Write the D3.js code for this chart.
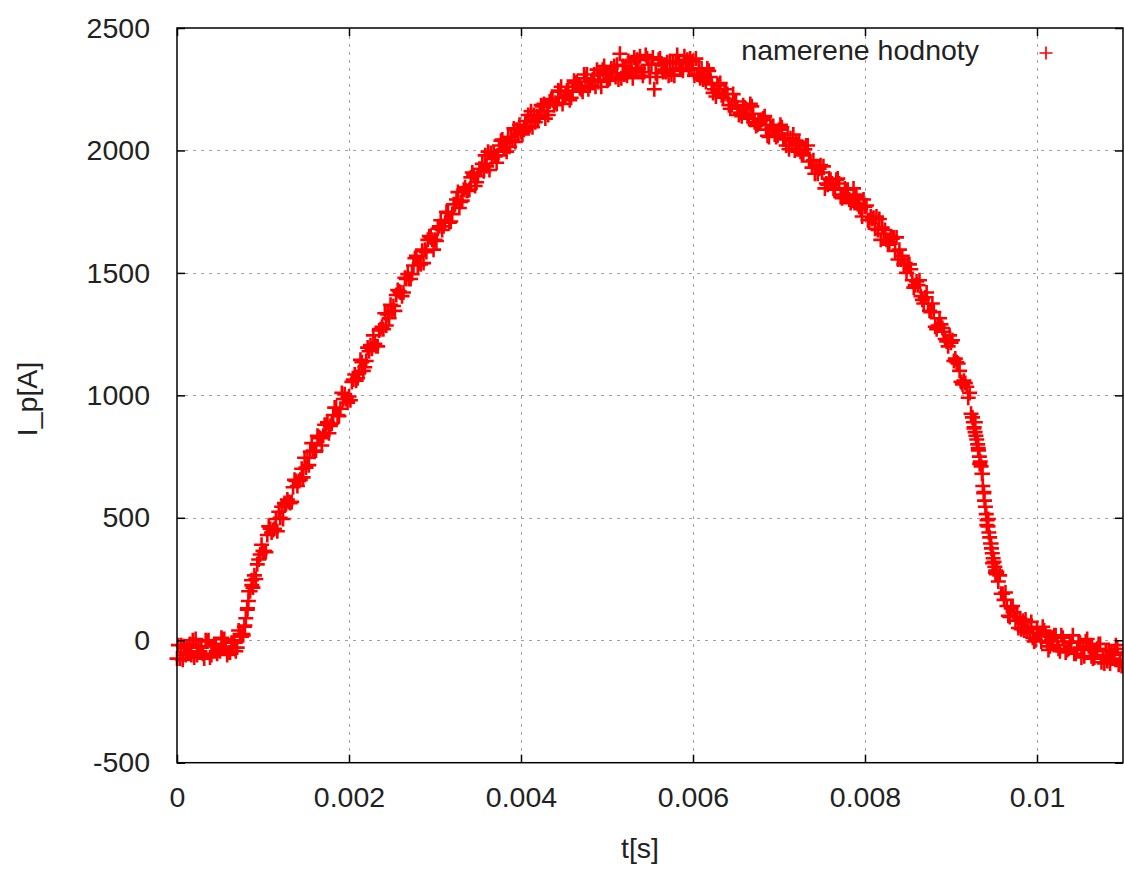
<!DOCTYPE html>
<html>
<head>
<meta charset="utf-8">
<script src="https://cdn.jsdelivr.net/npm/d3@7.9.0/dist/d3.min.js"></script>
<style>
  body { margin: 0; background: #fff; }
  svg { display: block; font-family: "Liberation Sans", Arial, sans-serif; }
</style>
</head>
<body>
<div id="chart"></div>
<script>
// measured current, read off the plot: three interleaved runs of samples,
// run A at t = k*step, run B at k*step + step/3, run C at k*step + 2*step/3
const sampleStep = 0.00005;
const currentA = [
  -75, -20, -60, -15, -70, -25, -55, -5, -60, -20, -45, 5, -50, -10, -30,
  15, 90, 200, 265, 330, 365, 430, 440, 495, 500, 560, 565, 625, 630, 700,
  705, 770, 770, 830, 835, 890, 885, 950, 945, 1005, 995, 1065, 1070, 1135, 1140,
  1205, 1210, 1265, 1270, 1330, 1345, 1410, 1420, 1480, 1475, 1530, 1530, 1590, 1585, 1645,
  1635, 1690, 1690, 1745, 1740, 1800, 1790, 1850, 1840, 1900, 1895, 1945, 1935, 1990, 1975,
  2020, 2005, 2055, 2040, 2085, 2075, 2120, 2100, 2145, 2130, 2180, 2160, 2210, 2195, 2240,
  2215, 2260, 2240, 2280, 2250, 2295, 2265, 2310, 2280, 2330, 2285, 2335, 2300, 2395, 2310,
  2365, 2295, 2370, 2320, 2390, 2300, 2250, 2370, 2320, 2360, 2310, 2365, 2335, 2385, 2330,
  2365, 2310, 2335, 2280, 2300, 2250, 2265, 2215, 2230, 2185, 2200, 2155, 2175, 2130, 2150,
  2105, 2125, 2085, 2105, 2065, 2085, 2045, 2065, 2020, 2040, 1995, 2005, 1955, 1960, 1905,
  1910, 1865, 1880, 1840, 1865, 1820, 1840, 1795, 1810, 1760, 1770, 1715, 1725, 1675, 1685,
  1635, 1650, 1590, 1595, 1535, 1535, 1470, 1465, 1405, 1400, 1345, 1340, 1285, 1275, 1220,
  1215, 1150, 1100, 1060, 990, 910, 820, 710, 545, 420, 320, 240, 190, 140, 130,
  80, 90, 40, 55, 10, 45, -5, 30, -25, 20, -35, 10, -40, -5, -55,
  -10, -65, -25, -75, -35, -90, -45, -95, -50, -100, -60
];
const currentB = [
  -20, -80, -30, -60, 5, -45, -75, 0, -25, -55, 10, -30, -50, 0, 40,
  25, 125, 245, 250, 350, 365, 465, 450, 445, 545, 555, 560, 655, 650, 665,
  745, 805, 775, 825, 880, 845, 920, 920, 1010, 985, 980, 1085, 1095, 1100, 1195,
  1190, 1200, 1270, 1335, 1315, 1365, 1430, 1405, 1475, 1475, 1560, 1540, 1540, 1635, 1635,
  1630, 1715, 1705, 1705, 1780, 1830, 1795, 1835, 1890, 1855, 1925, 1915, 1995, 1965, 1950,
  2040, 2030, 2015, 2090, 2070, 2065, 2120, 2160, 2115, 2145, 2190, 2145, 2205, 2190, 2260,
  2225, 2205, 2285, 2265, 2240, 2310, 2280, 2260, 2310, 2345, 2290, 2315, 2350, 2295, 2345,
  2320, 2380, 2335, 2305, 2375, 2350, 2315, 2375, 2330, 2305, 2355, 2390, 2335, 2355, 2375,
  2305, 2335, 2290, 2335, 2270, 2220, 2275, 2230, 2185, 2230, 2175, 2140, 2170, 2190, 2115,
  2120, 2130, 2060, 2095, 2055, 2105, 2045, 2005, 2065, 2025, 1980, 2020, 1955, 1905, 1925,
  1935, 1860, 1865, 1880, 1810, 1845, 1800, 1845, 1780, 1730, 1775, 1730, 1680, 1720, 1660,
  1615, 1640, 1645, 1555, 1540, 1535, 1440, 1450, 1390, 1420, 1340, 1280, 1315, 1260, 1200,
  1225, 1135, 1055, 1050, 1010, 865, 785, 680, 470, 395, 275, 265, 165, 100, 140,
  95, 45, 85, 30, -5, 30, 55, -10, 0, 20, -45, -5, -35, 20, -35,
  -70, -5, -35, -70, -15, -60, -85, -45, -20, -85
];
const currentC = [
  -75, -25, -50, 0, -60, -30, 0, -70, -15, -40, 5, -60, -10, -45, 25,
  55, 200, 215, 310, 390, 360, 455, 455, 525, 495, 575, 565, 650, 655, 745,
  715, 775, 835, 795, 880, 875, 950, 915, 985, 970, 1055, 1060, 1145, 1115, 1180,
  1245, 1200, 1280, 1285, 1370, 1345, 1425, 1420, 1495, 1495, 1570, 1535, 1595, 1650, 1595,
  1680, 1675, 1750, 1710, 1780, 1765, 1840, 1835, 1910, 1870, 1925, 1980, 1920, 1995, 1980,
  2045, 1995, 2055, 2035, 2105, 2085, 2145, 2095, 2140, 2185, 2130, 2200, 2185, 2245, 2190,
  2245, 2215, 2275, 2255, 2310, 2250, 2290, 2330, 2260, 2320, 2295, 2345, 2290, 2345, 2305,
  2360, 2330, 2385, 2320, 2350, 2380, 2300, 2355, 2320, 2365, 2305, 2355, 2325, 2370, 2335,
  2375, 2295, 2310, 2325, 2235, 2270, 2225, 2250, 2170, 2200, 2145, 2185, 2140, 2180, 2100,
  2120, 2140, 2055, 2100, 2060, 2095, 2020, 2050, 2000, 2035, 1990, 2020, 1930, 1935, 1940,
  1845, 1885, 1845, 1885, 1805, 1840, 1785, 1820, 1770, 1800, 1715, 1720, 1730, 1635, 1675,
  1625, 1645, 1555, 1570, 1500, 1515, 1450, 1470, 1375, 1375, 1375, 1270, 1290, 1230, 1245,
  1140, 1130, 1045, 1035, 925, 890, 720, 605, 495, 315, 280, 190, 195, 95, 115,
  50, 80, 35, 75, 0, 20, 40, -40, 10, -20, 20, -50, -10, -55, -5,
  -40, 5, -65, -40, -15, -95, -40, -75, -35, -105
];

// extra dense samples on the steep edges
const kneeTimes = [0.00077, 0.00079, 0.00082, 0.00083, 0.00087];
const kneeCurrents = [20, 60, 130, 160, 225];
const fallTimes = [0.00926, 0.00927, 0.00928, 0.00929, 0.00931, 0.00932, 0.00933, 0.00934,
  0.00936, 0.00937, 0.00938, 0.00939, 0.00941, 0.00942, 0.00943, 0.00944,
  0.00946, 0.00947, 0.00948, 0.00949, 0.00951, 0.00952, 0.00953];
const fallCurrents = [890, 870, 850, 835, 800, 775, 750, 730,
  680, 630, 600, 570, 515, 490, 465, 440,
  395, 375, 355, 335, 300, 285, 270];

const xTicks = [0, 0.002, 0.004, 0.006, 0.008, 0.01];
const xTickLabels = ['0', '0.002', '0.004', '0.006', '0.008', '0.01'];
const yTicks = [-500, 0, 500, 1000, 1500, 2000, 2500];
const yTickLabels = ['-500', '0', '500', '1000', '1500', '2000', '2500'];
const seriesName = 'namerene hodnoty';

const run = (values, offset) => values.map((v, k) => ({ t: k * sampleStep + offset, i: v }));
const points = run(currentA, 0)
  .concat(run(currentB, sampleStep / 3))
  .concat(run(currentC, (2 * sampleStep) / 3))
  .concat(kneeTimes.map((t, k) => ({ t, i: kneeCurrents[k] })))
  .concat(fallTimes.map((t, k) => ({ t, i: fallCurrents[k] })));

const width = 1124;
const height = 871;
const plot = { left: 177, right: 1123, top: 28, bottom: 762.7 };
const fontSize = 28.5;
const markerArm = 7.5;
const markerStroke = 2.6;

const svg = d3.select('#chart').append('svg')
  .attr('width', width)
  .attr('height', height);

const x = d3.scaleLinear().domain([0, 0.011]).range([plot.left, plot.right]);
const y = d3.scaleLinear().domain([-500, 2500]).range([plot.bottom, plot.top]);

// dotted grid
const grid = svg.append('g')
  .attr('stroke', '#a0a0a0')
  .attr('stroke-width', 1)
  .attr('stroke-dasharray', '3,5');

grid.selectAll('line.gx')
  .data(xTicks.filter((d) => d > 0))
  .join('line')
  .attr('class', 'gx')
  .attr('x1', (d) => Math.round(x(d)) + 0.5)
  .attr('x2', (d) => Math.round(x(d)) + 0.5)
  .attr('y1', plot.top)
  .attr('y2', plot.bottom);

grid.selectAll('line.gy')
  .data(yTicks.filter((d) => d > -500 && d < 2500))
  .join('line')
  .attr('class', 'gy')
  .attr('x1', plot.left)
  .attr('x2', plot.right)
  .attr('y1', (d) => Math.round(y(d)) + 0.5)
  .attr('y2', (d) => Math.round(y(d)) + 0.5);

// data as plus markers
const plus = (cx, cy, s) =>
  `M${cx - s},${cy}H${cx + s}M${cx},${cy - s}V${cy + s}`;

svg.append('clipPath').attr('id', 'clip')
  .append('rect')
  .attr('x', plot.left - 8)
  .attr('y', plot.top)
  .attr('width', plot.right - plot.left + 8)
  .attr('height', plot.bottom - plot.top);

svg.append('g')
  .attr('clip-path', 'url(#clip)')
  .append('path')
  .attr('d', points.map((d) => plus(x(d.t), y(d.i), markerArm)).join(''))
  .attr('fill', 'none')
  .attr('stroke', '#ff0000')
  .attr('stroke-width', markerStroke);

// axes with inward ticks on all sides
function styleAxis(g) {
  g.select('.domain').remove();
  g.selectAll('.tick line').attr('stroke', '#000').attr('stroke-width', 1.5);
  g.selectAll('.tick text')
    .attr('fill', '#222')
    .attr('font-size', fontSize)
    .attr('font-family', '"Liberation Sans", Arial, sans-serif');
}

svg.append('g')
  .attr('transform', `translate(0,${plot.bottom})`)
  .call(d3.axisBottom(x).tickValues(xTicks).tickSizeInner(-8).tickSizeOuter(0)
    .tickPadding(24).tickFormat((d, k) => xTickLabels[k]))
  .call(styleAxis);

svg.append('g')
  .attr('transform', `translate(${plot.left},0)`)
  .call(d3.axisLeft(y).tickValues(yTicks).tickSizeInner(-8).tickSizeOuter(0)
    .tickPadding(27).tickFormat((d, k) => yTickLabels[k]))
  .call(styleAxis);

svg.append('g')
  .attr('transform', `translate(0,${plot.top})`)
  .call(d3.axisTop(x).tickValues(xTicks).tickSizeInner(-8).tickSizeOuter(0).tickFormat(''))
  .call(styleAxis);

svg.append('g')
  .attr('transform', `translate(${plot.right},0)`)
  .call(d3.axisRight(y).tickValues(yTicks).tickSizeInner(-8).tickSizeOuter(0).tickFormat(''))
  .call(styleAxis);

// frame
svg.append('rect')
  .attr('x', plot.left)
  .attr('y', plot.top)
  .attr('width', plot.right - plot.left)
  .attr('height', plot.bottom - plot.top)
  .attr('fill', 'none')
  .attr('stroke', '#000')
  .attr('stroke-width', 1.5);

// axis titles
svg.append('text')
  .attr('x', 640)
  .attr('y', 850)
  .attr('text-anchor', 'middle')
  .attr('dominant-baseline', 'middle')
  .attr('font-size', fontSize)
  .attr('fill', '#222')
  .text('t[s]');

svg.append('text')
  .attr('transform', 'translate(29,399) rotate(-90)')
  .attr('text-anchor', 'middle')
  .attr('dominant-baseline', 'middle')
  .attr('font-size', fontSize)
  .attr('fill', '#222')
  .text('I_p[A]');

// legend
svg.append('text')
  .attr('x', 979)
  .attr('y', 52)
  .attr('text-anchor', 'end')
  .attr('dominant-baseline', 'middle')
  .attr('font-size', fontSize)
  .attr('fill', '#222')
  .text(seriesName);

svg.append('path')
  .attr('d', plus(1046, 53, 6.5))
  .attr('stroke', '#ff0000')
  .attr('stroke-width', 1.7);
</script>
</body>
</html>
